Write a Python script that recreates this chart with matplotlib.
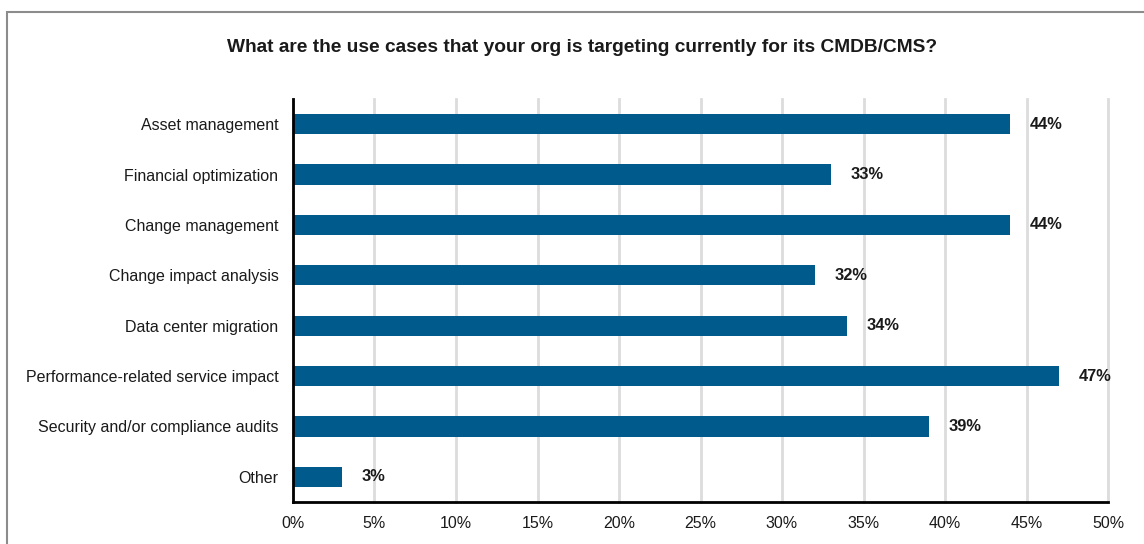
import matplotlib
matplotlib.use("Agg")
import matplotlib.pyplot as plt
from matplotlib.patches import Rectangle

categories = [
    "Asset management",
    "Financial optimization",
    "Change management",
    "Change impact analysis",
    "Data center migration",
    "Performance-related service impact",
    "Security and/or compliance audits",
    "Other",
]
values = [44, 33, 44, 32, 34, 47, 39, 3]
xticks = [0, 5, 10, 15, 20, 25, 30, 35, 40, 45, 50]
title = "What are the use cases that your org is targeting currently for its CMDB/CMS?"

plt.rcParams['font.family'] = ['Liberation Sans', 'DejaVu Sans']

W, H = 1144, 544
fig = plt.figure(figsize=(W / 100, H / 100), dpi=100)
ax = fig.add_axes([293 / W, 1 - 502 / H, (1108 - 293) / W, (502 - 99) / H])

ys = list(range(len(categories)))
ax.barh(ys, values, height=0.4, color="#005a8c", zorder=3)
for y, v in zip(ys, values):
    ax.text(v + 1.2, y, f"{v}%", va="center", ha="left", fontsize=11.8,
            fontweight="bold", color="#1a1a1a")

ax.set_xlim(0, 50)
ax.set_ylim(len(categories) - 0.5, -0.5)
ax.set_yticks(ys)
ax.set_yticklabels(categories, fontsize=11.5, color="#1a1a1a")
ax.set_xticks(xticks)
ax.set_xticklabels([f"{t}%" for t in xticks], fontsize=11.5, color="#1a1a1a")
ax.tick_params(axis="both", length=0)
ax.tick_params(axis="y", pad=10.5)
ax.tick_params(axis="x", pad=10)
ax.grid(axis="x", color="#dcdcdc", linewidth=2, zorder=0)
for gl in ax.get_xgridlines():
    gl.set_clip_on(False)
ax.set_axisbelow(True)
for s in ["top", "right"]:
    ax.spines[s].set_visible(False)
for s in ["left", "bottom"]:
    ax.spines[s].set_linewidth(2)
    ax.spines[s].set_color("black")
    ax.spines[s].set_zorder(4)

fig.text(582 / W, 1 - 48 / H, title, ha="center", va="center",
         fontsize=13.8, fontweight="bold", color="#1a1a1a")

fig.patches.append(Rectangle((6.5 / W, -0.1), 1.2, 1 - 12 / H + 0.1,
                             transform=fig.transFigure, fill=False,
                             edgecolor="#8c8c8c", linewidth=1.5))

fig.savefig("out.png", dpi=100)
